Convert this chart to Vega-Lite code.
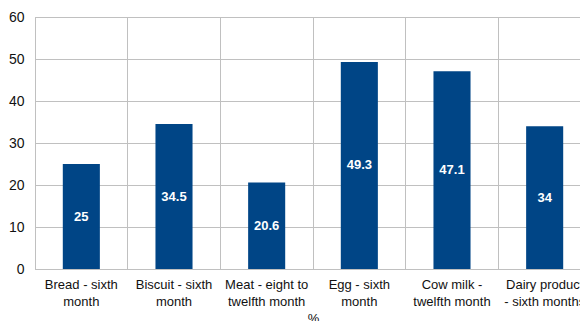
{
  "$schema": "https://vega.github.io/schema/vega-lite/v6.json",
  "autosize": "none",
  "width": 556,
  "height": 252,
  "padding": {"left": 35, "top": 17, "right": 0, "bottom": 52},
  "background": "white",
  "config": {
    "view": {"stroke": "#c0c0c0", "strokeWidth": 1},
    "font": "Liberation Sans"
  },
  "data": {
    "values": [
      {"food": "Bread - sixth month", "pct": 25},
      {"food": "Biscuit - sixth month", "pct": 34.5},
      {"food": "Meat - eight to twelfth month", "pct": 20.6},
      {"food": "Egg - sixth month", "pct": 49.3},
      {"food": "Cow milk - twelfth month", "pct": 47.1},
      {"food": "Dairy product - sixth months", "pct": 34}
    ]
  },
  "encoding": {
    "x": {
      "field": "food",
      "type": "nominal",
      "sort": null,
      "scale": {"paddingInner": 0, "paddingOuter": 0},
      "axis": {
        "title": "%",
        "titleFontSize": 13,
        "titleFontWeight": "normal",
        "titleColor": "#111111",
        "titlePadding": 4,
        "labelAngle": 0,
        "labelFontSize": 13,
        "labelColor": "#111111",
        "labelLineHeight": 17,
        "labelPadding": 9,
        "labelExpr": "datum.value == 'Bread - sixth month' ? ['Bread - sixth','month'] : datum.value == 'Biscuit - sixth month' ? ['Biscuit - sixth','month'] : datum.value == 'Meat - eight to twelfth month' ? ['Meat - eight to','twelfth month'] : datum.value == 'Egg - sixth month' ? ['Egg - sixth','month'] : datum.value == 'Cow milk - twelfth month' ? ['Cow milk -','twelfth month'] : ['Dairy product','- sixth months']",
        "ticks": false,
        "domain": true,
        "domainColor": "#c0c0c0",
        "grid": true,
        "gridColor": "#c0c0c0",
        "bandPosition": 0,
        "labelBound": false,
        "labelOverlap": false
      }
    }
  },
  "layer": [
    {
      "mark": {"type": "bar", "color": "#004586", "width": {"band": 0.4}},
      "encoding": {
        "y": {
          "field": "pct",
          "type": "quantitative",
          "scale": {"domain": [0, 60], "nice": false},
          "axis": {
            "title": null,
            "values": [0, 10, 20, 30, 40, 50, 60],
            "labelFontSize": 14,
            "labelColor": "#111111",
            "labelPadding": 11,
            "labelOverlap": false,
            "ticks": false,
            "domain": true,
            "domainColor": "#c0c0c0",
            "grid": true,
            "gridColor": "#c0c0c0"
          }
        }
      }
    },
    {
      "mark": {"type": "text", "color": "white", "fontWeight": "bold", "fontSize": 13, "baseline": "middle"},
      "encoding": {
        "y": {"datum": 0, "type": "quantitative"},
        "yOffset": {"field": "pct", "type": "quantitative", "scale": {"domain": [0, 60], "range": [0, -126]}},
        "text": {"field": "pct", "type": "quantitative"}
      }
    }
  ]
}
